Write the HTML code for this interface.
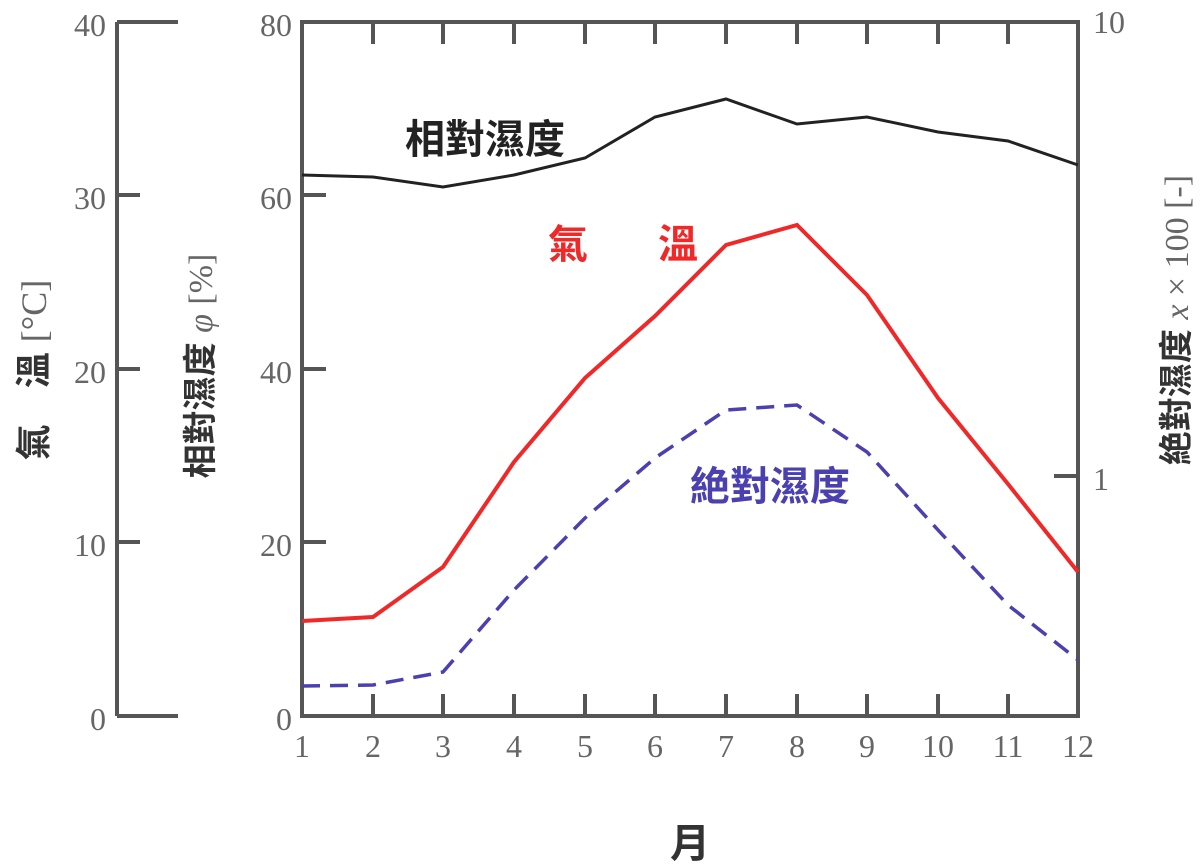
<!DOCTYPE html>
<html><head><meta charset="utf-8"><style>
html,body{margin:0;padding:0;background:#fff;}
svg{display:block;}
.t{font-family:"Liberation Serif",serif;font-size:32px;fill:#666;}
.j{font-family:"Liberation Sans","Noto Sans CJK TC",sans-serif;font-weight:bold;}
</style></head><body>
<svg width="1200" height="867" viewBox="0 0 1200 867" xmlns="http://www.w3.org/2000/svg">
<g stroke="#555" stroke-width="4" fill="none">
<line x1="117" y1="22" x2="117" y2="716"/>
<line x1="117" y1="22" x2="178" y2="22"/>
<line x1="117" y1="716" x2="178" y2="716"/>
<line x1="117" y1="195" x2="140" y2="195"/>
<line x1="117" y1="369" x2="140" y2="369"/>
<line x1="117" y1="542" x2="140" y2="542"/>
<rect x="302" y="22" width="776" height="694"/>
<line x1="302" y1="195" x2="326" y2="195"/>
<line x1="302" y1="369" x2="326" y2="369"/>
<line x1="302" y1="542" x2="326" y2="542"/>
<line x1="1078" y1="476" x2="1054" y2="476"/>
</g>
<g stroke="#555" stroke-width="4">
<path d="M373 22v22M443 22v22M514 22v22M585 22v22M655 22v22M726 22v22M797 22v22M867 22v22M938 22v22M1008 22v22M373 716v-22M443 716v-22M514 716v-22M585 716v-22M655 716v-22M726 716v-22M797 716v-22M867 716v-22M938 716v-22M1008 716v-22"/>
</g>
<polyline fill="none" stroke="#222" stroke-width="3" points="302,175 373,177 443,187 514,175 585,158 655,117 726,99 797,124 867,117 938,132 1008,141 1078,165"/>
<polyline fill="none" stroke="#f02828" stroke-width="4" points="302,621 373,617 443,567 514,462 585,378 655,316 726,245 797,225 867,295 938,398 1008,484 1078,572"/>
<polyline fill="none" stroke="#4a40b0" stroke-width="3.5" stroke-dasharray="18,10" points="302,686 373,685 443,672 514,590 585,518 655,458 726,410 797,405 867,452 938,530 1008,605 1078,660"/>
<g class="t" text-anchor="end">
<text x="106" y="36">40</text><text x="106" y="209">30</text><text x="106" y="383">20</text><text x="106" y="556">10</text><text x="106" y="730">0</text>
<text x="292" y="36">80</text><text x="292" y="209">60</text><text x="292" y="383">40</text><text x="292" y="556">20</text><text x="292" y="730">0</text>
</g>
<g class="t"><text x="1093" y="33">10</text><text x="1093" y="490">1</text></g>
<g class="t" text-anchor="middle">
<text x="302" y="757">1</text><text x="373" y="757">2</text><text x="443" y="757">3</text><text x="514" y="757">4</text><text x="585" y="757">5</text><text x="655" y="757">6</text><text x="726" y="757">7</text><text x="797" y="757">8</text><text x="867" y="757">9</text><text x="938" y="757">10</text><text x="1008" y="757">11</text><text x="1078" y="757">12</text>
</g>
<text class="j" x="405" y="153" font-size="40" fill="#222">相對濕度</text>
<text class="j" x="548" y="258" font-size="40" fill="#f02828"><tspan>氣</tspan><tspan x="658">溫</tspan></text>
<text class="j" x="690" y="500" font-size="40" fill="#4a40b0">絶對濕度</text>
<text class="j" x="670" y="857" font-size="40" fill="#333">月</text>
<text class="j" transform="translate(46,370) rotate(-90)" text-anchor="middle" font-size="36" fill="#333">氣　溫 <tspan font-family="Liberation Serif" font-weight="normal" fill="#666">[°C]</tspan></text>
<text class="j" transform="translate(212,366) rotate(-90)" text-anchor="middle" font-size="34" fill="#333">相對濕度 <tspan font-family="Liberation Serif" font-weight="normal" font-style="italic" fill="#666">φ</tspan> <tspan font-family="Liberation Serif" font-weight="normal" fill="#666">[%]</tspan></text>
<text class="j" transform="translate(1188,320) rotate(-90)" text-anchor="middle" font-size="34" fill="#333">絶對濕度 <tspan font-family="Liberation Serif" font-weight="normal" font-style="italic" fill="#666">x</tspan><tspan font-family="Liberation Serif" font-weight="normal" fill="#666"> × 100 [-]</tspan></text>
</svg>
</body></html>
